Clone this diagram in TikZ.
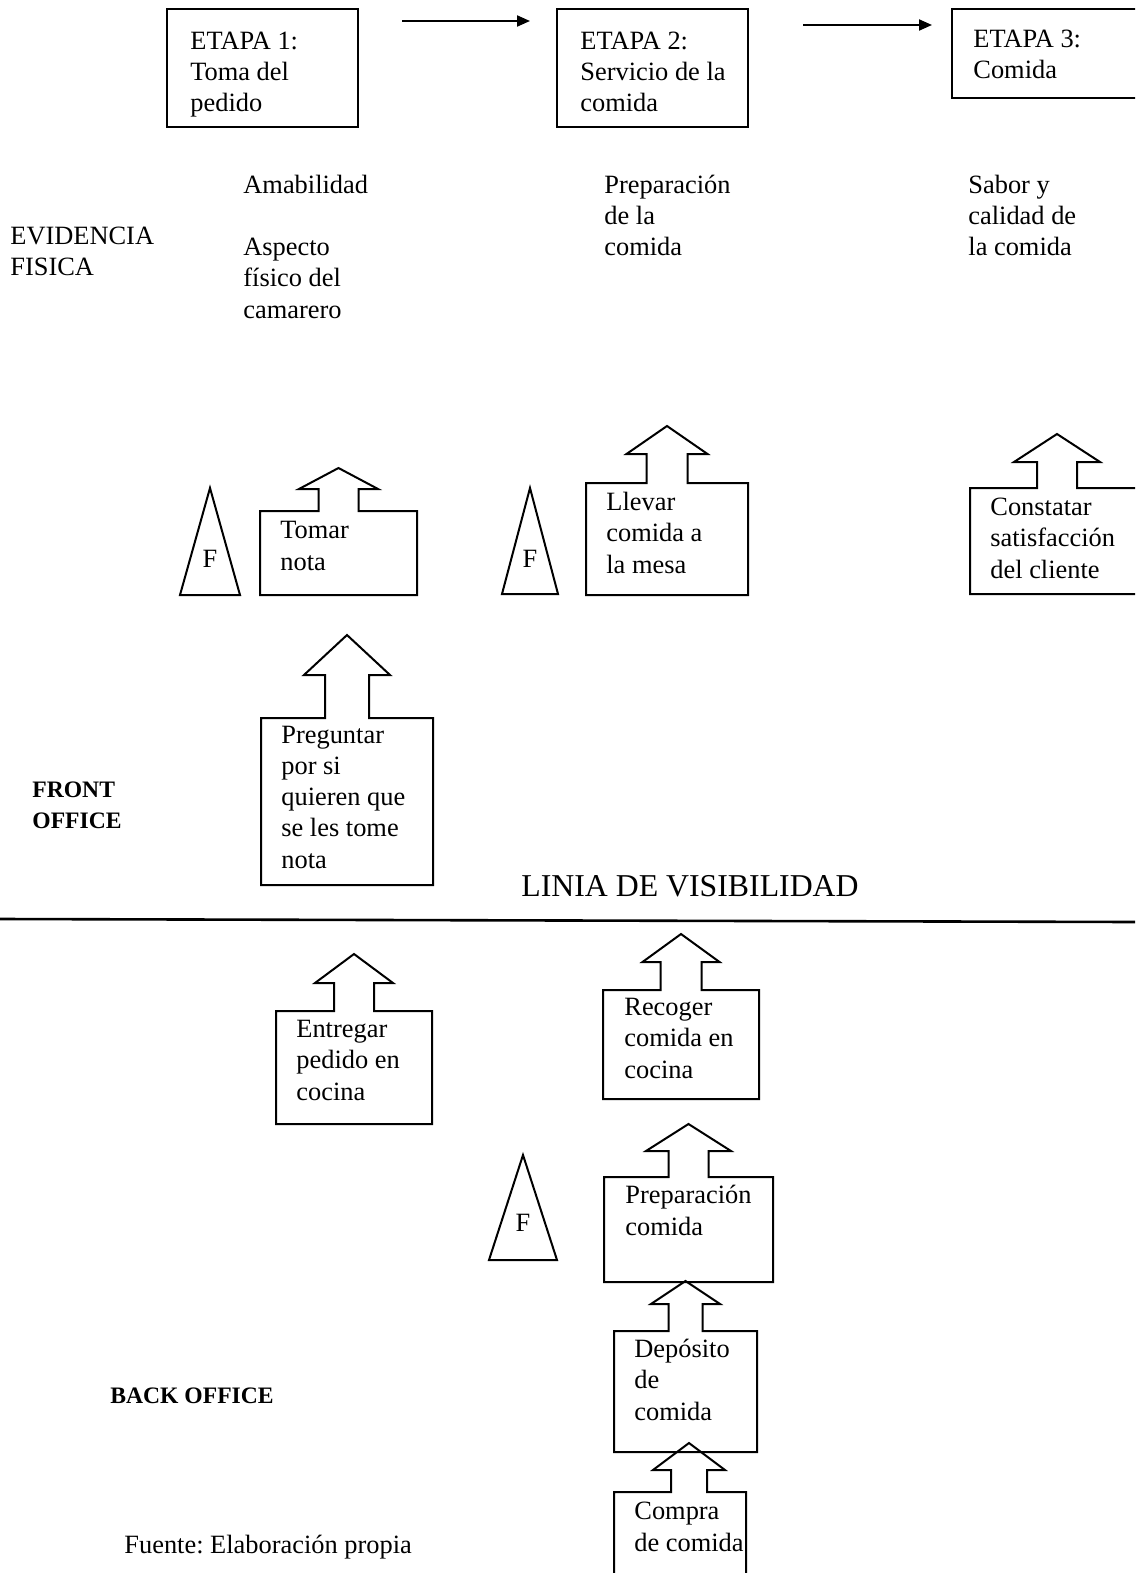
\documentclass[tikz,border=0pt]{standalone}
\usepackage{fontspec}
\setmainfont{Liberation Serif}
\usetikzlibrary{arrows.meta}
\frenchspacing

% Horizontal offset of the block arrow from the box centre (normally 0)
\def\ubshift{0}

% Outline of a box with an upward block arrow on its top edge.
% #1 name, #2 left, #3 top, #4 right, #5 bottom,
% #6 stem half width, #7 stem height, #8 head half width, #9 head height
\newcommand\upbox[9]{%
  \pgfmathsetmacro\ubc{(#2+#4)/2+\ubshift}%
  \pgfmathsetmacro\ubs{#3-#7}%
  \pgfmathsetmacro\uba{#3-#7-#9}%
  \draw[boxline] (#2,#5) -- (#2,#3) -- (\ubc-#6,#3) -- (\ubc-#6,\ubs)
    -- (\ubc-#8,\ubs) -- (\ubc,\uba) -- (\ubc+#8,\ubs) -- (\ubc+#6,\ubs)
    -- (\ubc+#6,#3) -- (#4,#3) -- (#4,#5) -- cycle;
  \coordinate (#1) at (\ubc,#3);%
}

% Narrow triangle marking a failure point
\newcommand\failmark[5]{% name, apex x, apex y, half base, base y
  \draw[boxline] (#2,#3) -- (#2-#4,#5) -- (#2+#4,#5) -- cycle;
  \coordinate (#1) at (#2,#5);%
}

% Text nodes are placed by the baseline of their last line.
\tikzset{
  boxline/.style={line width=1pt, line join=miter},
  lbl/.style={anchor=base west, inner sep=0pt, align=left,
              font=\fontsize{13.2}{15.6}\selectfont},
  flabel/.style={anchor=base, inner sep=0pt,
              font=\fontsize{13.2}{15.6}\selectfont},
  zone/.style={anchor=base west, inner sep=0pt, align=left,
              font=\fontsize{11.8}{15.5}\selectfont\bfseries},
  flow/.style={line width=1pt, -{Triangle[length=6.5pt,width=5.5pt]}},
}

\begin{document}
\begin{tikzpicture}[x=0.5pt, y=-0.5pt]
\useasboundingbox (0,0) rectangle (1135,1573);
\fill[white] (0,0) rectangle (1135,1573);
\clip (0,0) rectangle (1135,1573);

% ---- stages ----
\draw[boxline] (167,9) rectangle (358,127);
\draw[boxline] (557,9) rectangle (748,127);
\draw[boxline] (952,9) rectangle (1160,98);
\node[lbl] (etapa1) at (190,112) {ETAPA 1:\\Toma del\\pedido};
\node[lbl] (etapa2) at (580,112) {ETAPA 2:\\Servicio de la\\comida};
\node[lbl] (etapa3) at (973,79) {ETAPA 3:\\Comida};

\coordinate (a1s) at (402,21);
\coordinate (a1e) at (530,21);
\coordinate (a2s) at (803,25);
\coordinate (a2e) at (932,25);
\draw[flow] (a1s) -- (a1e);
\draw[flow] (a2s) -- (a2e);

% ---- physical evidence ----
\node[lbl] (evid) at (10,276) {EVIDENCIA\\FISICA};
\node[lbl] (ev1) at (243,318) {Amabilidad\\[15.6pt]Aspecto\\físico del\\camarero};
\node[lbl] (ev2) at (604,256) {Preparación\\de la\\comida};
\node[lbl] (ev3) at (968,256) {Sabor y\\calidad de\\la comida};

% ---- front office ----
\failmark{f1}{210}{488}{30}{595}
\node[flabel] (f1t) at (210,567) {F};
\upbox{tomar}{260}{511}{417}{595}{20}{22}{39.5}{21}
\node[lbl] (tomart) at (280,570) {Tomar\\nota};

\failmark{f2}{530}{488}{28}{594}
\node[flabel] (f2t) at (530,567) {F};
\upbox{llevar}{586}{483}{748}{595}{20.5}{29}{40.5}{28}
\node[lbl] (llevart) at (606,573) {Llevar\\comida a\\la mesa};

\upbox{constatar}{970}{488}{1144}{594}{20}{26}{43}{28}
\node[lbl] (constatart) at (990,578) {Constatar\\satisfacción\\del cliente};

\upbox{preguntar}{261}{718}{433}{885}{22}{43}{43}{40}
\node[lbl] (preguntart) at (281,868) {Preguntar\\por si\\quieren que\\se les tome\\nota};

\node[zone] (front) at (32,828) {FRONT\\OFFICE};

% ---- line of visibility ----
\coordinate (vis-l) at (0,919);
\coordinate (vis-r) at (1135,922);
\draw[line width=1.3pt] (vis-l) -- (vis-r);
\node[anchor=base, inner sep=0pt, font=\fontsize{15.9}{18}\selectfont] (vis) at (690,896) {LINIA DE VISIBILIDAD};

% ---- back office ----
\upbox{entregar}{276}{1011}{432}{1124}{20}{28}{39}{29}
\node[lbl] (entregart) at (296,1100) {Entregar\\pedido en\\cocina};

\upbox{recoger}{603}{990}{759}{1099}{20.5}{28}{38.5}{28}
\node[lbl] (recogert) at (624,1078) {Recoger\\comida en\\cocina};

\failmark{f3}{523}{1155}{34}{1260}
\node[flabel] (f3t) at (523,1231) {F};
\upbox{preparacion}{604}{1177}{773}{1282}{20}{26}{42.5}{27}
\node[lbl] (preparaciont) at (625,1235) {Preparación\\comida};

\upbox{deposito}{614}{1331}{757}{1452}{17}{27}{34.5}{23}
\node[lbl] (depositot) at (634,1420) {Depósito\\de\\comida};

\def\ubshift{9}
\upbox{compra}{614}{1492}{746}{1620}{18}{22}{36}{27}
\def\ubshift{0}
\node[lbl] (comprat) at (634,1551) {Compra\\de comida};

\node[zone] (back) at (110,1403) {BACK OFFICE};
\node[lbl] (fuente) at (124,1553) {Fuente: Elaboración propia};
\end{tikzpicture}
\end{document}
